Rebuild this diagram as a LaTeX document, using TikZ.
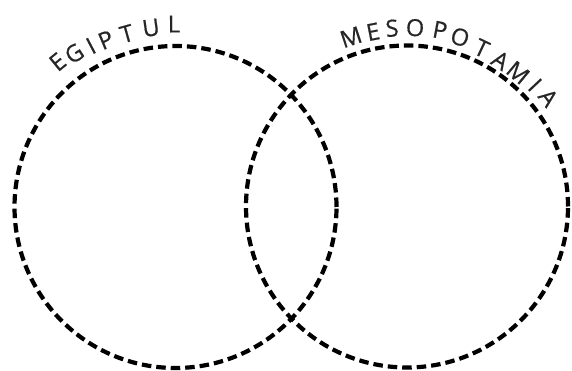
\documentclass[tikz,border=0pt]{standalone}
\usepackage{fontspec}
\newfontfamily\lettfont[FakeBold=0.6]{Open Sans}
\begin{document}
\begin{tikzpicture}[x=1pt,y=1pt,
  ring/.style={circle, draw=black, line width=4.2pt, dash pattern=on 9.5pt off 5pt, minimum size=322pt, inner sep=0pt},
  letter/.style={inner sep=0pt, font=\lettfont\fontsize{23.5}{23.5}\selectfont, text height=16.8pt, text depth=0pt, text=black!85}]
\useasboundingbox (0,0) rectangle (572,371);
\node[ring] (egipt) at (175.5,164) {};
\node[ring] (meso) at (407,164.5) {};
\foreach \l/\a/\r [count=\i] in {E/129.1/187,G/123.4/184,I/117.7/182,P/112.6/181,T/105.7/180,U/97.8/181,L/90.5/183}
  \node[letter, rotate=\a-90] (eg\i) at ([shift={(\a:\r)}]egipt.center) {\l};
\foreach \l/\a/\r [count=\i] in {M/108.3/178.5,E/101.0/178,S/94.8/179,O/87.4/179,P/79.4/179.5,O/72.6/177.5,T/64.7/175,A/57.4/173.5,M/50.3/174,I/43.5/176.5,A/37.6/178.5}
  \node[letter, rotate=\a-90] (me\i) at ([shift={(\a:\r)}]meso.center) {\l};
\end{tikzpicture}
\end{document}
